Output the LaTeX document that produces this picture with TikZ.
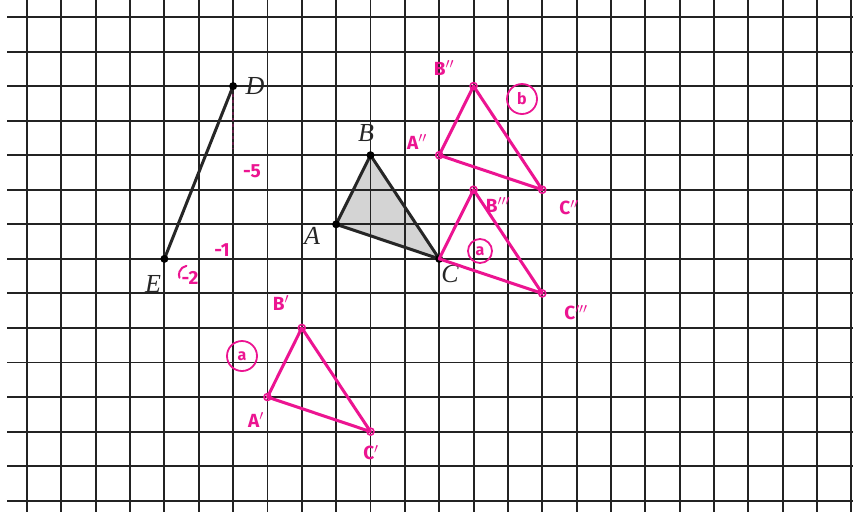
\documentclass[tikz,border=0pt]{standalone}
\usepackage{fontspec}
\setmainfont{Liberation Serif}
\newfontfamily\hand{Fira Sans}
\definecolor{ink}{RGB}{236,20,145}
\definecolor{gridc}{RGB}{35,35,35}
\definecolor{trigray}{RGB}{212,212,212}
\tikzset{
  gridline/.style={line width=1.9pt, draw=gridc},
  blackseg/.style={line width=3pt, draw=black!85, line join=round},
  pinkseg/.style={line width=3pt, draw=ink, line join=round, line cap=round},
  bdot/.style={circle, fill=black, inner sep=0pt, minimum size=8pt},
  pdot/.style={circle, draw=ink, line width=1.6pt, inner sep=0pt, minimum size=7pt},
  ptlabel/.style={font=\itshape\fontsize{26}{26}\selectfont, text=black!85, inner sep=0pt},
  handlabel/.style={font=\hand\bfseries\fontsize{19}{19}\selectfont, text=ink, inner sep=0pt},
  circlab/.style={font=\hand\bfseries\fontsize{16}{16}\selectfont, text=ink, draw=ink, line width=1.8pt, circle, inner sep=2pt, minimum size=30pt}
}
\begin{document}
\begin{tikzpicture}[x=1pt,y=-1pt]
\useasboundingbox (0,0) rectangle (853,512);
\fill[white] (0,0) rectangle (853,512);

% points on the grid
\begin{scope}[shift={(27,17)}, x=34.35pt, y=-34.55pt]
  \coordinate (D) at (6,2);
  \coordinate (E) at (4,7);
  \coordinate (A) at (9,6);
  \coordinate (B) at (10,4);
  \coordinate (C) at (12,7);
  \coordinate (A1) at (7,11);
  \coordinate (B1) at (8,9);
  \coordinate (C1) at (10,12);
  \coordinate (A2) at (12,4);
  \coordinate (B2) at (13,2);
  \coordinate (C2) at (15,5);
  \coordinate (B3) at (13,5);
  \coordinate (C3) at (15,8);
  \coordinate (Dlow) at (6,4);
\end{scope}

% shaded triangle (under the grid)
\fill[trigray] (A) -- (B) -- (C) -- cycle;

% grid
\foreach \i in {0,...,24} \draw[gridline] (27+34.35*\i,0) -- (27+34.35*\i,512);
\foreach \j in {0,...,14} \draw[gridline] (7,17+34.55*\j) -- (853,17+34.55*\j);

% faint pink dashed mark below D
\draw[ink, opacity=0.3, line width=2pt, dashed] ([yshift=-8pt]D) -- ([yshift=6pt]Dlow);

% black figures
\draw[blackseg] (D) -- (E);
\draw[blackseg] (A) -- (B) -- (C) -- cycle;
\foreach \p in {D,E,A,B,C} \node[bdot] at (\p) {};

% black labels
\node[ptlabel] (lD) at (255,86) {D};
\node[ptlabel] (lB) at (366,133) {B};
\node[ptlabel] (lA) at (312,236) {A};
\node[ptlabel] (lC) at (450,274) {C};
\node[ptlabel] (lE) at (153,284) {E};

% pink triangles
\draw[pinkseg] (A1) -- (B1) -- (C1) -- cycle;
\draw[pinkseg] (A2) -- (B2) -- (C2) -- cycle;
\draw[pinkseg] (C) -- (B3) -- (C3) -- cycle;
\foreach \p in {A1,B1,C1,A2,B2,C2,B3,C3} \node[pdot] at (\p) {};

% pink handwritten labels
\node[handlabel] (hB1) at (281,303) {B$'$};
\node[handlabel] (hA1) at (256,420) {A$'$};
\node[handlabel] (hC1) at (371,453) {C$'$};
\node[circlab] (ca1) at (242,356) {a};
\node[handlabel] (hB2) at (444,68) {B$''$};
\node[handlabel] (hA2) at (417,142) {A$''$};
\node[handlabel] (hC2) at (569,208) {C$''$};
\node[circlab] (cb) at (522,99) {b};
\node[handlabel] (hB3) at (498,205) {B$'''$};
\node[circlab, minimum size=24pt] (ca2) at (480,251) {a};
\node[handlabel] (hC3) at (576,313) {C$'''$};

% translation notes
\node[handlabel] (m5) at (252,171) {-5};
\node[handlabel] (m1) at (222,250) {-1};
\node[handlabel] (m2) at (190,278) {-2};
\draw[ink, line width=2pt, line cap=round] ([shift={(22pt,-7pt)}]E) arc[start angle=100, end angle=200, radius=9pt];
\end{tikzpicture}
\end{document}
